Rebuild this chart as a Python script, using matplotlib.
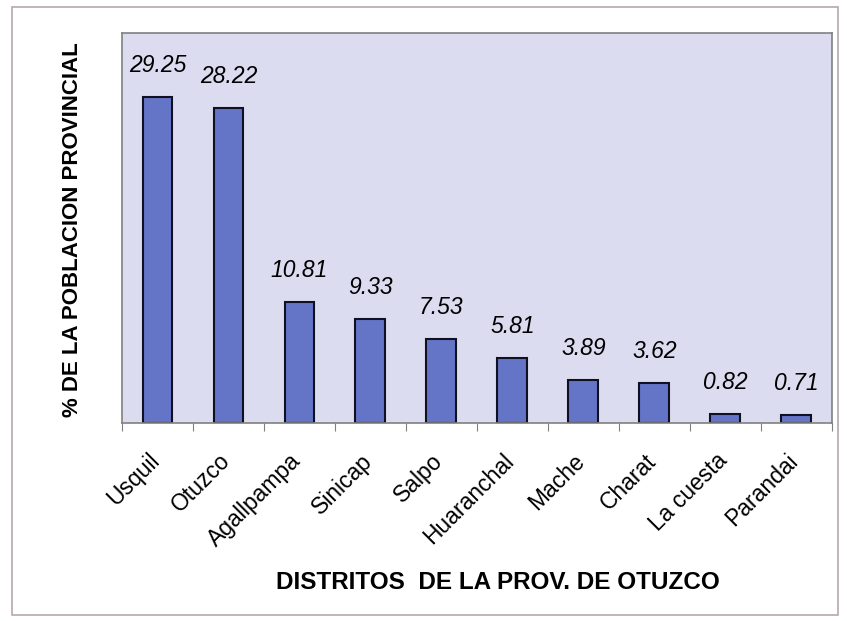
import matplotlib.pyplot as plt
from matplotlib.patches import Rectangle
from matplotlib.transforms import ScaledTranslation

distritos = ["Usquil", "Otuzco", "Agallpampa", "Sinicap", "Salpo",
             "Huaranchal", "Mache", "Charat", "La cuesta", "Parandai"]
porcentaje = [29.25, 28.22, 10.81, 9.33, 7.53, 5.81, 3.89, 3.62, 0.82, 0.71]

plt.rcParams["font.family"] = ["Liberation Sans", "DejaVu Sans"]

fig = plt.figure(figsize=(8.47, 6.21), dpi=100)
ax = fig.add_axes([0.144, 0.319, 0.838, 0.628])

# thin frame round the whole chart
fig.patches.append(Rectangle((0.014, 0.01), 0.975, 0.978, transform=fig.transFigure,
                             fill=False, edgecolor="#b8a8ac", linewidth=1.2))

ax.set_facecolor("#dcdcf0")
x = range(len(distritos))
ax.bar(x, porcentaje, width=0.42, color="#6474c6", edgecolor="#101020", linewidth=1.5)

for xi, v in zip(x, porcentaje):
    ax.text(xi, v + 1.8, f"{v:.2f}", ha="center", va="bottom",
            fontsize=16.5, style="italic")

ax.set_xlim(-0.5, len(distritos) - 0.5)
ax.set_ylim(0, 35)
ax.set_yticks([])
ax.set_xticks([i - 0.5 for i in range(len(distritos) + 1)], minor=False)
ax.set_xticklabels([])
ax.set_xticks(list(x), minor=True)
ax.set_xticklabels(distritos, minor=True, rotation=45, ha="right",
                   rotation_mode="anchor", fontsize=16.5)
ax.tick_params(axis="x", which="minor", length=0, pad=19)
ax.tick_params(axis="x", which="major", length=6, color="#808080", direction="out")

# nudge the slanted names a bit to the left, as in the original
shift = ScaledTranslation(-0.1, 0, fig.dpi_scale_trans)
for lbl in ax.get_xticklabels(minor=True):
    lbl.set_transform(lbl.get_transform() + shift)

for s in ax.spines.values():
    s.set_color("#808080")
    s.set_linewidth(1.2)

fig.text(0.086, 0.63, "% DE LA POBLACION PROVINCIAL", rotation=90,
         ha="center", va="center", fontsize=16, fontweight="bold")
fig.text(0.588, 0.062, "DISTRITOS  DE LA PROV. DE OTUZCO",
         ha="center", va="center", fontsize=17.5, fontweight="bold")

fig.savefig("out.png", dpi=100)
